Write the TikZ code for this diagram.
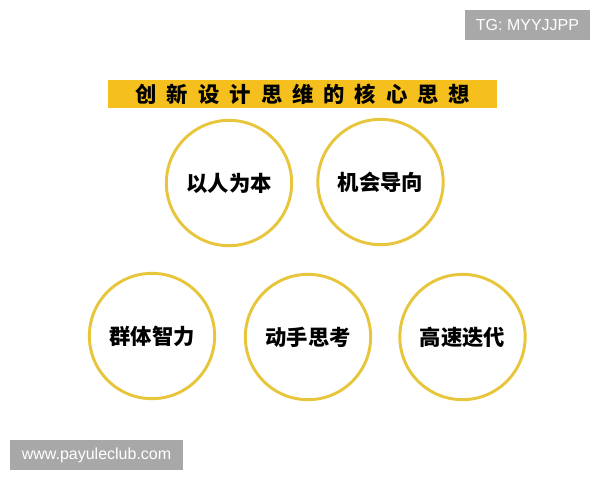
\documentclass[tikz,border=0pt]{standalone}
\usepackage{fontspec}
\usepackage{tikz}
\setsansfont{Liberation Sans}
\newfontfamily\cjk{Noto Sans CJK SC}
\definecolor{Gold}{HTML}{F5BF1E}
\definecolor{Ring}{HTML}{E8C63C}
\definecolor{Mark}{HTML}{A8A8A8}
\tikzstyle{none}=[inner sep=0pt]
\tikzstyle{banner}=[fill=Gold,draw=none]
\tikzstyle{idea}=[circle,draw=Ring,line width=2.2pt,minimum size=94pt,inner sep=0pt,font=\cjk\bfseries\fontsize{16}{18}\selectfont]
\tikzstyle{tag}=[fill=Mark,text=white,inner sep=0pt,font=\sffamily\fontsize{12}{14}\selectfont]

\begin{document}
\begin{tikzpicture}[x=0.75pt,y=-0.75pt]
  \useasboundingbox[fill=white] (0,0) rectangle (600,480);
  \node [style=tag,minimum width=94pt,minimum height=23pt] (tg) at (527.5, 25) {TG: MYYJJPP};
  \node [style=none] (0) at (108, 80) {};
  \node [style=none] (1) at (497, 108) {};
  \fill [style=banner] (0.center) rectangle (1.center);
  \node [style=none,font=\cjk\bfseries\fontsize{16}{18}\selectfont] (title) at (303, 94) {创\hspace{7.5pt}新\hspace{7.5pt}设\hspace{7.5pt}计\hspace{7.5pt}思\hspace{7.5pt}维\hspace{7.5pt}的\hspace{7.5pt}核\hspace{7.5pt}心\hspace{7.5pt}思\hspace{7.5pt}想};
  \node [style=idea] (2) at (229, 183) {以人为本};
  \node [style=idea] (3) at (380.5, 182) {机会导向};
  \node [style=idea] (4) at (152, 336) {群体智力};
  \node [style=idea] (5) at (308, 337) {动手思考};
  \node [style=idea] (6) at (462.5, 337) {高速迭代};
  \node [style=tag,minimum width=130pt,minimum height=23pt] (site) at (96.5, 455) {www.payuleclub.com};
\end{tikzpicture}
\end{document}
